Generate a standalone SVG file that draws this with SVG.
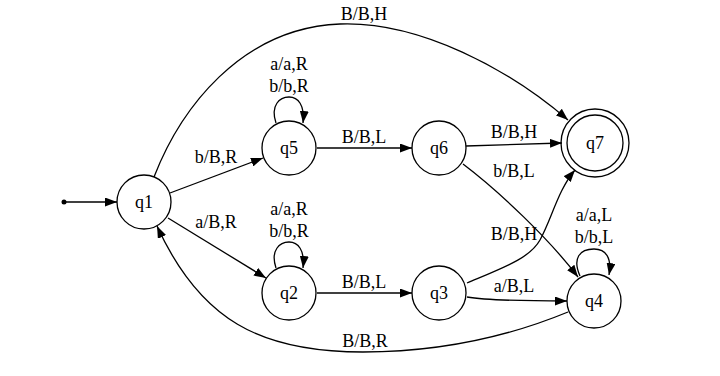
<svg xmlns="http://www.w3.org/2000/svg" width="720" height="376" viewBox="0 0 720 376">
<defs>
<style>
.n{fill:none;stroke:#000;stroke-width:1.3}
.e{fill:none;stroke:#000;stroke-width:1.3;marker-end:url(#ah)}
text{font-family:"Liberation Serif","Times New Roman",serif;font-size:18px;fill:#000;text-anchor:middle}
</style>
<marker id="ah" viewBox="0 0 10 7" refX="10" refY="3.5" markerWidth="12" markerHeight="9" markerUnits="userSpaceOnUse" orient="auto" preserveAspectRatio="none">
<path d="M0,0 L10,3.5 L0,7 z" fill="#000"/>
</marker>
</defs>
<rect width="720" height="376" fill="#fff"/>
<g id="nodes">
<g id="start"><circle cx="64" cy="202" r="2.5" fill="#000"/></g>
<g id="q1"><circle class="n" cx="144" cy="202" r="27"/><text x="144" y="208">q1</text></g>
<g id="q5"><circle class="n" cx="289" cy="148" r="27"/><text x="289" y="154">q5</text></g>
<g id="q6"><circle class="n" cx="439" cy="148" r="27"/><text x="439" y="154">q6</text></g>
<g id="q7"><circle class="n" cx="595" cy="143" r="34"/><circle class="n" cx="595" cy="143" r="28"/><text x="595" y="149">q7</text></g>
<g id="q2"><circle class="n" cx="289" cy="293" r="27"/><text x="289" y="299">q2</text></g>
<g id="q3"><circle class="n" cx="439" cy="293" r="27"/><text x="439" y="299">q3</text></g>
<g id="q4"><circle class="n" cx="594" cy="301" r="27"/><text x="594" y="307">q4</text></g>
</g>
<g id="edges">
<path class="e" d="M66,202 L117,202"/>
<path class="e" d="M154,177 C180,110 240,28 340,24 C420,21 510,70 568,120"/>
<text x="364" y="20">B/B,H</text>
<path class="e" d="M170,193 L263,158"/>
<text x="216" y="163">b/B,R</text>
<path class="e" d="M276,123 C270,105 280,97 289,97 C298,97 305,105 303,123"/>
<text x="289" y="70">a/a,R</text>
<text x="289" y="92">b/b,R</text>
<path class="e" d="M317,148 L412,148"/>
<text x="364" y="143">B/B,L</text>
<path class="e" d="M466,146 L562,143"/>
<text x="514" y="138">B/B,H</text>
<path class="e" d="M463,164 C500,192 550,240 578,277"/>
<text x="514" y="177">b/B,L</text>
<path class="e" d="M168,218 L266,278"/>
<text x="216" y="228">a/B,R</text>
<path class="e" d="M276,268 C270,250 280,242 289,242 C298,242 305,250 303,268"/>
<text x="289" y="215">a/a,R</text>
<text x="289" y="237">b/b,R</text>
<path class="e" d="M317,293 L412,293"/>
<text x="364" y="288">B/B,L</text>
<path class="e" d="M467,283 C505,267 530,258 540,240 C552,218 558,190 575,170"/>
<text x="514" y="240">B/B,H</text>
<path class="e" d="M467,297 C490,301 530,301 567,301"/>
<text x="514" y="292">a/B,L</text>
<path class="e" d="M580,276 C572,258 580,249 594,249 C606,249 612,258 609,275"/>
<text x="594" y="221">a/a,L</text>
<text x="594" y="243">b/b,L</text>
<path class="e" d="M568,312 C500,340 430,352 363,352 C260,352 200,320 157,226"/>
<text x="365" y="347">B/B,R</text>
</g>
</svg>
